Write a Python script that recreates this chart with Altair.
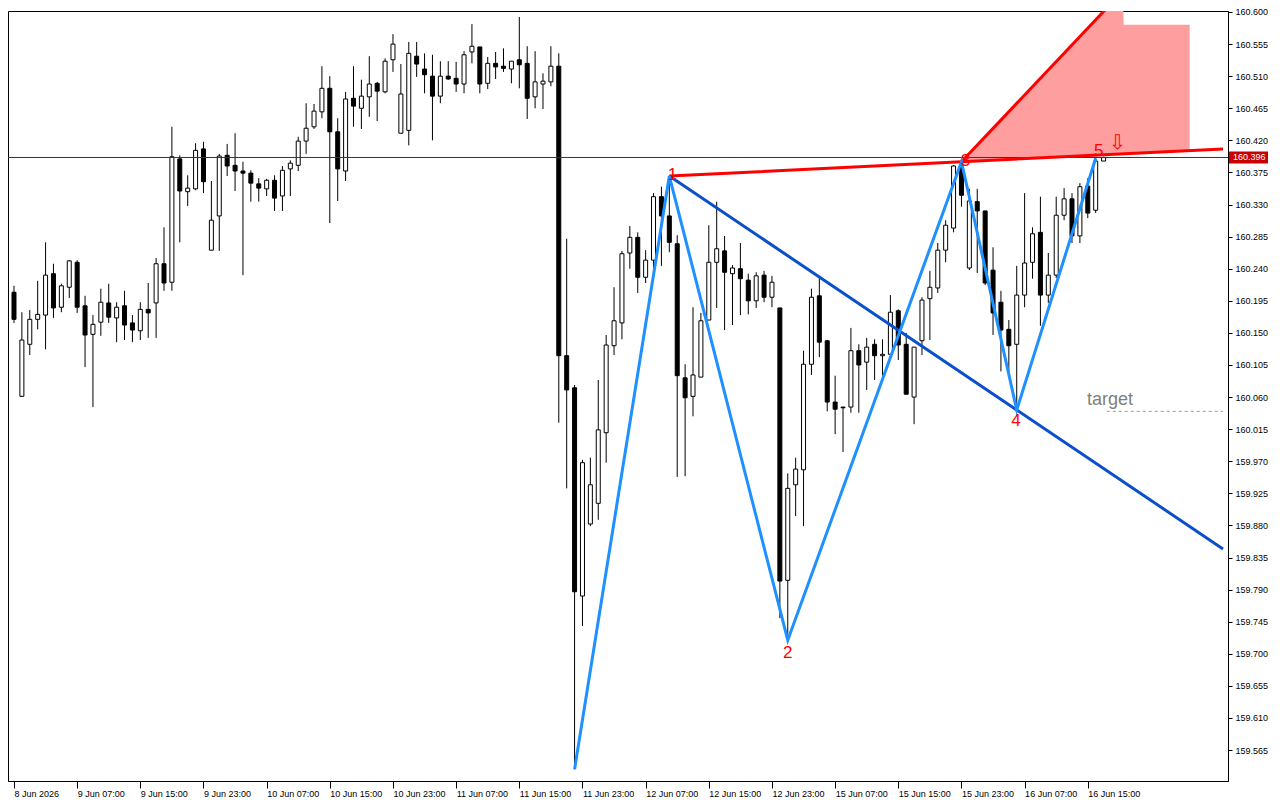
import altair as alt
import pandas as pd

# ---------------- data ----------------
opens = [160.207,160.061,160.134,160.169,160.175,160.233,160.186,160.214,160.249,160.188,
         160.148,160.165,160.192,160.171,160.188,160.164,160.153,160.183,160.192,160.247,
         160.221,160.394,160.348,160.352,160.408,160.266,160.314,160.399,160.385,160.377,
         160.374,160.359,160.352,160.364,160.342,160.380,160.385,160.419,160.439,160.460,
         160.493,160.432,160.377,160.479,160.465,160.481,160.500,160.488,160.533,160.430,
         160.434,160.538,160.520,160.510,160.482,160.510,160.507,160.499,160.544,160.551,
         160.500,160.528,160.524,160.520,160.533,160.528,160.481,160.499,160.502,160.524,
         160.118,160.073,159.781,159.882,159.911,160.010,160.132,160.164,160.262,160.284,
         160.228,160.252,160.341,160.314,160.275,160.087,160.061,160.088,160.168,160.249,
         160.265,160.233,160.240,160.224,160.195,160.231,160.200,160.185,159.803,159.937,
         159.958,160.106,160.202,160.139,160.053,160.046,160.046,160.125,160.109,160.134,
         160.118,160.120,160.181,160.134,160.060,160.139,160.198,160.213,160.266,160.297,
         160.384,160.241,160.334,160.321,160.238,160.193,160.155,160.134,160.203,160.249,
         160.291,160.203,160.231,160.315,160.338,160.286,160.356,160.322,160.391]
highs = [160.216,160.179,160.182,160.223,160.277,160.247,160.219,160.252,160.252,160.202,
         160.175,160.212,160.219,160.193,160.209,160.175,160.193,160.220,160.255,160.298,
         160.439,160.399,160.371,160.416,160.418,160.363,160.401,160.415,160.430,160.390,
         160.378,160.367,160.366,160.371,160.384,160.392,160.425,160.472,160.471,160.524,
         160.510,160.451,160.488,160.524,160.505,160.538,160.502,160.535,160.569,160.527,
         160.558,160.558,160.542,160.540,160.531,160.531,160.530,160.545,160.583,160.551,
         160.537,160.544,160.549,160.531,160.593,160.552,160.545,160.514,160.552,160.542,
         160.282,160.077,159.972,159.975,160.084,160.147,160.214,160.265,160.300,160.291,
         160.266,160.346,160.355,160.370,160.287,160.106,160.186,160.178,160.301,160.334,
         160.286,160.245,160.276,160.233,160.235,160.237,160.230,160.185,159.953,159.975,
         160.125,160.212,160.227,160.140,160.090,160.046,160.157,160.134,160.143,160.141,
         160.141,160.203,160.183,160.150,160.130,160.200,160.237,160.276,160.308,160.385,
         160.390,160.352,160.352,160.321,160.270,160.209,160.168,160.244,160.346,160.298,
         160.341,160.262,160.341,160.353,160.346,160.360,160.367,160.395,160.397]
lows = [160.164,160.061,160.119,160.155,160.127,160.171,160.179,160.199,160.178,160.102,
        160.046,160.146,160.164,160.137,160.140,160.137,160.140,160.143,160.143,160.209,
        160.209,160.277,160.328,160.350,160.346,160.266,160.265,160.370,160.349,160.231,
        160.334,160.334,160.342,160.321,160.321,160.342,160.377,160.401,160.436,160.451,
        160.304,160.335,160.363,160.439,160.436,160.453,160.447,160.486,160.516,160.430,
        160.413,160.509,160.486,160.420,160.472,160.505,160.488,160.486,160.528,160.486,
        160.492,160.506,160.516,160.500,160.493,160.450,160.465,160.464,160.496,160.024,
        159.932,159.538,159.739,159.879,159.888,159.968,160.119,160.141,160.240,160.206,
        160.220,160.237,160.244,160.263,159.948,159.949,160.033,160.088,160.168,160.185,
        160.154,160.161,160.175,160.176,160.185,160.193,160.186,159.750,159.719,159.893,
        159.879,160.091,160.116,160.040,160.008,159.983,160.038,160.038,160.070,160.084,
        160.090,160.120,160.112,160.064,160.022,160.119,160.140,160.206,160.249,160.291,
        160.327,160.238,160.234,160.217,160.147,160.096,160.094,160.042,160.186,160.226,
        160.160,160.192,160.227,160.308,160.276,160.276,160.311,160.318,160.391]
closes = [160.169,160.140,160.169,160.176,160.231,160.185,160.216,160.251,160.186,160.147,
          160.162,160.193,160.172,160.186,160.161,160.154,160.183,160.178,160.247,160.220,
          160.397,160.349,160.353,160.406,160.362,160.308,160.398,160.384,160.377,160.374,
          160.360,160.353,160.364,160.339,160.378,160.388,160.419,160.437,160.461,160.493,
          160.432,160.380,160.478,160.468,160.482,160.499,160.489,160.531,160.555,160.485,
          160.542,160.527,160.512,160.482,160.510,160.506,160.499,160.540,160.552,160.499,
          160.528,160.523,160.521,160.531,160.526,160.479,160.502,160.503,160.524,160.118,
          160.070,159.787,159.968,159.937,160.014,160.133,160.167,160.261,160.284,160.228,
          160.252,160.341,160.314,160.277,160.090,160.059,160.091,160.167,160.249,160.268,
          160.235,160.241,160.226,160.195,160.230,160.200,160.221,159.802,159.932,159.959,
          160.106,160.200,160.137,160.053,160.043,160.045,160.125,160.105,160.130,160.118,
          160.120,160.179,160.133,160.064,160.130,160.196,160.214,160.266,160.301,160.384,
          160.343,160.335,160.321,160.220,160.178,160.154,160.132,160.203,160.248,160.289,
          160.203,160.231,160.315,160.338,160.286,160.355,160.318,160.391,160.396]
bar_index = list(range(len(opens)))

x_tick_index = [0, 8, 16, 24, 32, 40, 48, 56, 64, 72, 80, 88, 96, 104, 112, 120, 128, 136]
x_tick_labels = ["8 Jun 2026", "9 Jun 07:00", "9 Jun 15:00", "9 Jun 23:00", "10 Jun 07:00",
                 "10 Jun 15:00", "10 Jun 23:00", "11 Jun 07:00", "11 Jun 15:00", "11 Jun 23:00",
                 "12 Jun 07:00", "12 Jun 15:00", "12 Jun 23:00", "15 Jun 07:00", "15 Jun 15:00",
                 "15 Jun 23:00", "16 Jun 07:00", "16 Jun 15:00"]
y_ticks = [159.565, 159.610, 159.655, 159.700, 159.745, 159.790, 159.835, 159.880, 159.925,
           159.970, 160.015, 160.060, 160.105, 160.150, 160.195, 160.240, 160.285, 160.330,
           160.375, 160.420, 160.465, 160.510, 160.555, 160.600]

# pattern (zigzag points 0..5)
zz_index = [71, 83, 98, 120, 127, 137]
zz_price = [159.538, 160.370, 159.719, 160.390, 160.042, 160.395]
# dark blue line 1 -> 4 -> right edge
blue_index = [83, 127, 153.125]
blue_price = [160.370, 160.042, 159.847]
# red line 1 -> 3 -> right edge
red_index = [83, 120, 153.125]
red_price = [160.370, 160.390, 160.408]
# steep red line from 3
steep_index = [120, 140.5]
steep_price = [160.390, 160.630]
# pink zone
zone_index = [120, 140.45, 140.55, 148.9]
zone_top = [160.390, 160.627, 160.582, 160.582]
zone_bottom = [160.390, 160.401, 160.401, 160.406]

label_text = ["1", "2", "3", "4", "5"]
label_index = [83.4, 98.0, 120.5, 126.9, 137.4]
label_price = [160.371, 159.701, 160.391, 160.026, 160.405]

bid_price = 160.396
target_price = 160.040
target_index = [138.4, 153.125]

# ---------------- chart ----------------
X_DOMAIN = [-0.125, 153.125]
Y_DOMAIN = [159.5216, 160.6014]
xs = alt.Scale(domain=X_DOMAIN, nice=False, zero=False)
ys = alt.Scale(domain=Y_DOMAIN, nice=False, zero=False)
FONT = "Liberation Sans"

label_expr = "[" + ",".join("'%s'" % t for t in x_tick_labels) + "][round(datum.value / 8)]"

x_axis = alt.Axis(values=x_tick_index, labelExpr=label_expr, title=None, grid=False,
                  tickSize=7, labelAlign="left", labelBaseline="top", labelPadding=1,
                  labelFont=FONT, labelFontSize=9, labelColor="black", domainColor="black",
                  tickColor="black", labelOverlap=False, labelFlush=False, labelBound=False)
y_axis = alt.Axis(orient="right", values=y_ticks, format=".3f", title=None, grid=False,
                  tickSize=4, labelPadding=3, labelFont=FONT, labelFontSize=9,
                  labelColor="black", domainColor="black", tickColor="black",
                  labelOverlap=False, labelFlush=False, labelBound=False)


def X(field):
    return alt.X(field, scale=xs, axis=x_axis, title=None)


def Y(field):
    return alt.Y(field, scale=ys, axis=y_axis, title=None)


candles = pd.DataFrame({"i": bar_index, "open": opens, "high": highs, "low": lows, "close": closes})

wicks = alt.Chart(candles).mark_rule(color="black", strokeWidth=1, clip=True).encode(
    x=X("i:Q"), y=Y("low:Q"), y2="high:Q")
bodies = alt.Chart(candles).mark_bar(size=4, stroke="black", strokeWidth=1, clip=True).encode(
    x=X("i:Q"), y=Y("open:Q"), y2="close:Q",
    fill=alt.condition("datum.close >= datum.open", alt.value("white"), alt.value("black")),
)

zone_df = pd.DataFrame({"i": zone_index, "top": zone_top, "bot": zone_bottom})
zone = alt.Chart(zone_df).mark_area(color="#FF9E9E", opacity=1, clip=True).encode(
    x=X("i:Q"), y=Y("top:Q"), y2="bot:Q")

bid_df = pd.DataFrame({"p": [bid_price], "label": ["%.3f" % bid_price]})
bid_line = alt.Chart(bid_df).mark_rule(color="#8B1010", strokeWidth=1).encode(y=Y("p:Q"))
bid_box = alt.Chart(bid_df).transform_calculate(
    hi="datum.p + 0.0085", lo="datum.p - 0.0085"
).mark_rect(color="#C80000").encode(
    x=alt.value(1221), x2=alt.value(1260), y=Y("hi:Q"), y2="lo:Q")
bid_text = alt.Chart(bid_df).mark_text(color="white", font=FONT, fontSize=9, align="left",
                                       baseline="middle").encode(
    x=alt.value(1225), y=Y("p:Q"), text="label:N")

tgt_df = pd.DataFrame({"i": target_index, "p": [target_price] * len(target_index)})
tgt_line = alt.Chart(tgt_df).mark_line(color="#9A9A9A", strokeWidth=1, strokeDash=[3, 3]).encode(
    x=X("i:Q"), y=Y("p:Q"))
tgt_text = alt.Chart(pd.DataFrame({"i": [135.9], "p": [160.056], "t": ["target"]})).mark_text(
    color="#808080", font=FONT, fontSize=18, align="left", baseline="middle").encode(
    x=X("i:Q"), y=Y("p:Q"), text="t:N")


def seg(ix, px, color, width):
    d = pd.DataFrame({"i": ix, "p": px, "k": list(range(len(ix)))})
    return alt.Chart(d).mark_line(color=color, strokeWidth=width, clip=True).encode(
        x=X("i:Q"), y=Y("p:Q"), order=alt.Order("k:Q"))


red_line = seg(red_index, red_price, "#FF0000", 3)
steep_line = seg(steep_index, steep_price, "#FF0000", 3)
blue_line = seg(blue_index, blue_price, "#0A4FCC", 3)
zigzag = seg(zz_index, zz_price, "#1E90FF", 3)

lbl_df = pd.DataFrame({"i": label_index, "p": label_price, "t": label_text})
labels = alt.Chart(lbl_df).mark_text(color="#FF0000", font=FONT, fontSize=17,
                                     baseline="middle").encode(
    x=X("i:Q"), y=Y("p:Q"), text="t:N")
arrow = alt.Chart(pd.DataFrame({"i": [139.75], "p": [160.416], "t": ["\u21e9"]})).mark_text(
    color="#FF0000", font="DejaVu Sans", fontSize=20, baseline="middle").encode(
    x=X("i:Q"), y=Y("p:Q"), text="t:N")

chart = alt.layer(
    zone, wicks, bodies, bid_line, tgt_line, red_line, steep_line, blue_line, zigzag,
    labels, arrow, tgt_text, bid_box, bid_text,
).properties(
    width=1220, height=770, background="white",
    autosize=alt.AutoSizeParams(type="none"),
    padding={"left": 0, "top": 3, "right": 42, "bottom": 22},
).configure_view(
    stroke="black", strokeWidth=1
)

chart.save("out.html", embed_options={"renderer": "svg", "actions": False})
